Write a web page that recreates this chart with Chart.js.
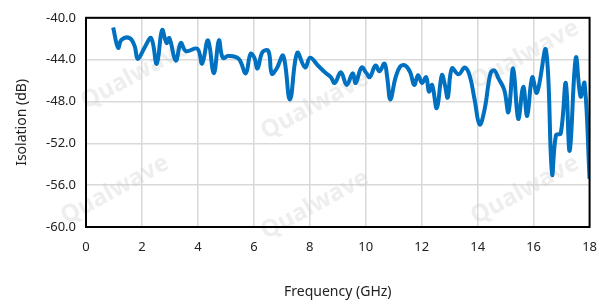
<!DOCTYPE html>
<html>
<head>
<meta charset="utf-8">
<script src="https://cdn.jsdelivr.net/npm/chart.js@4/dist/chart.umd.min.js"></script>
<style>
  html, body { margin: 0; padding: 0; background: #fff; }
  #wrap { width: 609px; height: 305px; }
</style>
</head>
<body>
<div id="wrap"><canvas id="chart"></canvas></div>
<script>
// --- Data ---
const freqGHz = [
  0.97, 1.15, 1.27, 1.56, 1.74, 1.85, 2.09, 2.33, 2.53, 2.72, 2.88, 2.98, 3.21, 3.39, 3.57,
  3.98, 4.15, 4.36, 4.57, 4.75, 4.89, 5.10, 5.46, 5.71, 5.88, 6.02, 6.13, 6.31, 6.52, 6.64,
  6.81, 7.05, 7.29, 7.55, 7.83, 8.01, 8.29, 8.54, 8.75, 8.89, 9.11, 9.32, 9.53, 9.64, 9.85,
  10.03, 10.14, 10.35, 10.49, 10.67, 10.77, 10.88, 11.06, 11.23, 11.41, 11.59, 11.73, 11.87,
  12.01, 12.16, 12.26, 12.37, 12.54, 12.72, 12.83, 12.93, 13.08, 13.32, 13.54, 13.71, 13.89,
  14.07, 14.25, 14.46, 14.60, 14.74, 14.95, 15.10, 15.27, 15.45, 15.63, 15.77, 15.95, 16.12,
  16.44, 16.66, 16.80, 16.97, 17.15, 17.29, 17.51, 17.68, 17.82, 18.0
];
const isolationDb = [
  -40.93, -42.87, -42.09, -41.94, -42.71, -43.94, -42.87, -41.94, -44.41, -41.17, -42.41, -41.94, -44.10, -42.41, -43.18,
  -42.96, -44.38, -42.16, -45.31, -42.16, -43.82, -43.64, -43.92, -45.31, -43.45, -43.82, -44.84, -43.27, -43.18, -45.33,
  -44.87, -43.64, -47.81, -43.36, -44.75, -43.82, -44.56, -45.21, -45.68, -46.23, -45.21, -46.42, -45.31, -46.23, -44.75,
  -45.31, -45.68, -44.56, -45.12, -44.38, -45.77, -47.81, -45.77, -44.66, -44.56, -45.21, -46.42, -45.49,
  -46.23, -45.68, -47.06, -46.42, -48.64, -45.49, -46.42, -47.62, -44.84, -45.40, -44.75, -45.49, -47.81,
  -50.21, -48.73, -45.31, -45.03, -45.77, -46.88, -49.01, -44.84, -49.66, -46.60, -49.38, -45.68, -47.16,
  -43.08, -54.94, -51.23, -51.05, -46.23, -52.71, -43.82, -47.53, -46.23, -55.40
];
const xTicks = [0, 2, 4, 6, 8, 10, 12, 14, 16, 18];
const yTicks = [-60, -56, -52, -48, -44, -40];

const FONT = "'Noto Sans', 'Open Sans', sans-serif";

// faint logo text behind the plot
const watermark = {
  id: 'watermark',
  beforeDatasetsDraw(chart) {
    const ctx = chart.ctx;
    const spots = [[135, 75], [315, 105], [525, 55], [115, 190], [315, 205], [525, 190]];
    ctx.save();
    ctx.fillStyle = 'rgba(200, 200, 200, 0.3)';
    ctx.font = "bold 24px " + FONT;
    ctx.textAlign = 'center';
    ctx.textBaseline = 'middle';
    spots.forEach(([x, y]) => {
      ctx.save();
      ctx.translate(x, y);
      ctx.rotate(-0.5);
      ctx.fillText('Qualwave', 0, 0);
      ctx.restore();
    });
    ctx.restore();
  }
};

// black frame round the plot area
const frame = {
  id: 'frame',
  afterDraw(chart) {
    const { left, top, right, bottom } = chart.chartArea;
    const ctx = chart.ctx;
    ctx.save();
    ctx.strokeStyle = '#000';
    ctx.lineWidth = 2;
    ctx.strokeRect(left, top, right - left, bottom - top);
    ctx.restore();
  }
};

new Chart(document.getElementById('chart'), {
  type: 'line',
  data: {
    datasets: [{
      label: 'Isolation',
      data: freqGHz.map((f, i) => ({ x: f, y: isolationDb[i] })),
      borderColor: '#0070c0',
      borderWidth: 4,
      pointRadius: 0,
      tension: 0.4,
      fill: false
    }]
  },
  options: {
    responsive: true,
    maintainAspectRatio: false,
    animation: false,
    layout: { padding: { left: 0, top: 11, right: 15, bottom: 0 } },
    plugins: { legend: { display: false }, tooltip: { enabled: false } },
    scales: {
      x: {
        type: 'linear',
        min: 0, max: 18,
        afterBuildTicks: (s) => { s.ticks = xTicks.map(v => ({ value: v })); },
        afterFit: (s) => { s.height = 78; },
        grid: { color: '#d9d9d9', lineWidth: 1.5, drawTicks: false },
        border: { display: false },
        ticks: { color: '#222', font: { family: FONT, size: 13 }, padding: 12, maxRotation: 0 },
        title: { display: true, text: 'Frequency (GHz)', color: '#222', font: { family: FONT, size: 14 }, padding: { top: 0, bottom: 5 } }
      },
      y: {
        min: -60, max: -40,
        afterBuildTicks: (s) => { s.ticks = yTicks.map(v => ({ value: v })); },
        afterFit: (s) => { s.width = 86; },
        grid: { color: '#d9d9d9', lineWidth: 1.5, drawTicks: false },
        border: { display: false },
        ticks: { color: '#222', font: { family: FONT, size: 13 }, padding: 10, callback: (v) => v.toFixed(1) },
        title: { display: true, text: 'Isolation (dB)', color: '#222', font: { family: FONT, size: 14 }, padding: { top: 14, bottom: 0 } }
      }
    }
  },
  plugins: [watermark, frame]
});
</script>
</body>
</html>
